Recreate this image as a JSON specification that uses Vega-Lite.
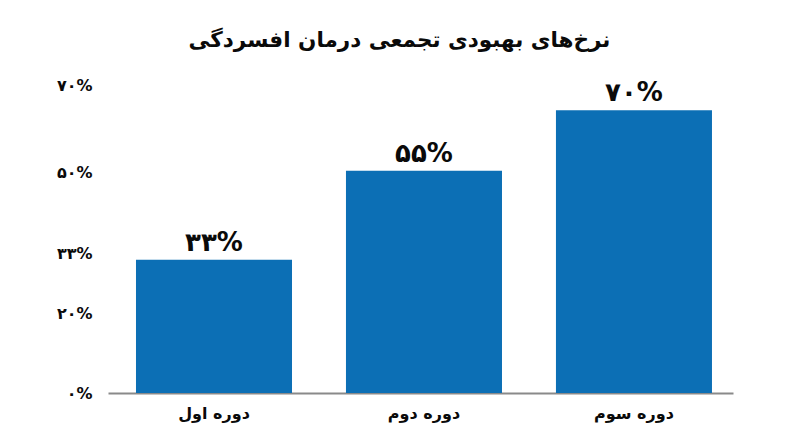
{
  "$schema": "https://vega.github.io/schema/vega-lite/v6.json",
  "description": "Cumulative recovery rates of depression treatment",
  "autosize": {"type": "none"},
  "padding": {"left": 108, "top": 69.8, "right": 67, "bottom": 54},
  "width": 625,
  "height": 323.2,
  "background": "white",
  "title": {
    "text": "نرخ‌های بهبودی تجمعی درمان افسردگی",
    "anchor": "middle",
    "dx": -21,
    "offset": 18,
    "font": "DejaVu Sans",
    "fontWeight": "bold",
    "fontSize": 21.5,
    "color": "#0a0a0a"
  },
  "data": {
    "values": [
      {"period": "دوره اول", "rate": 33, "label": "۳۳%"},
      {"period": "دوره دوم", "rate": 55, "label": "۵۵%"},
      {"period": "دوره سوم", "rate": 70, "label": "۷۰%"}
    ]
  },
  "encoding": {
    "x": {
      "field": "period",
      "type": "nominal",
      "sort": null,
      "title": null,
      "scale": {"paddingInner": 0.257, "paddingOuter": 0.1167, "align": 0.571},
      "axis": {
        "labelAngle": 0,
        "labelFont": "DejaVu Sans",
        "labelFontWeight": "bold",
        "labelFontSize": 16,
        "labelColor": "#0a0a0a",
        "labelPadding": 12,
        "ticks": false,
        "domainColor": "#8a8a8a",
        "domainWidth": 2
      }
    },
    "y": {
      "field": "rate",
      "type": "quantitative",
      "title": null,
      "scale": {"domain": [0, 80]},
      "axis": {
        "values": [0, 19.8, 34.5, 54.6, 76.2],
        "labelExpr": "datum.value == 0 ? '۰%' : datum.value < 20 ? '۲۰%' : datum.value < 35 ? '۳۳%' : datum.value < 55 ? '۵۰%' : '۷۰%'",
        "labelFont": "DejaVu Sans",
        "labelFontWeight": "bold",
        "labelFontSize": 16,
        "labelColor": "#0a0a0a",
        "labelPadding": 16,
        "ticks": false,
        "domain": false,
        "grid": false
      }
    }
  },
  "layer": [
    {"mark": {"type": "bar", "color": "#0c6fb5"}},
    {
      "mark": {
        "type": "text",
        "baseline": "bottom",
        "dy": -4,
        "font": "DejaVu Sans",
        "fontWeight": "bold",
        "fontSize": 26,
        "color": "#0a0a0a"
      },
      "encoding": {"text": {"field": "label", "type": "nominal"}}
    }
  ],
  "config": {"view": {"stroke": null}}
}
